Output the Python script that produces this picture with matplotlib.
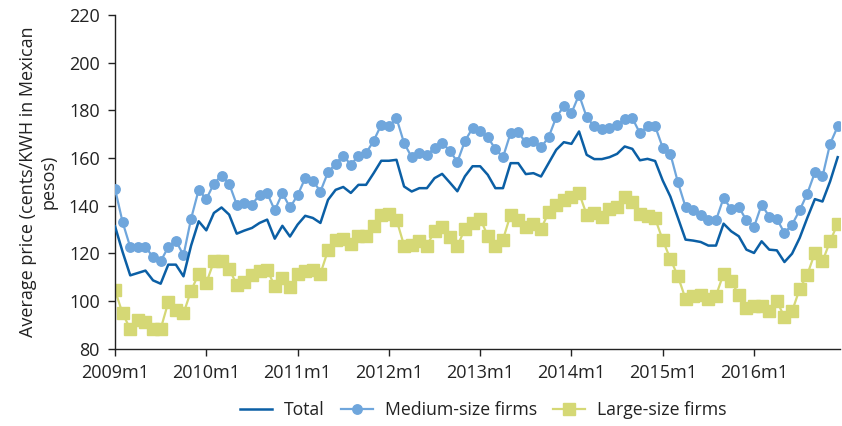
import numpy as np
import matplotlib
matplotlib.use("Agg")
import matplotlib.pyplot as plt

plt.rcParams['font.family'] = ['Open Sans', 'DejaVu Sans']

# monthly series, 2009m1 .. 2016m12
total = [131.3, 120.5, 110.7, 111.7, 112.7, 108.6, 107.2, 115.2, 115.2, 110.3, 123.2, 133.4,
         129.6, 136.9, 139.2, 136.2, 128.2, 129.5, 130.6, 132.7, 134.1, 126.1, 131.5, 127.0,
         132.0, 135.7, 134.8, 132.7, 142.4, 146.6, 147.8, 145.3, 148.7, 148.7, 153.6, 158.8,
         158.8, 159.2, 148.0, 145.9, 147.3, 147.3, 151.5, 153.3, 149.7, 146.0, 152.3, 156.5,
         156.5, 152.9, 147.3, 147.3, 157.8, 157.8, 153.2, 153.6, 152.2, 157.8, 163.4, 166.6,
         165.9, 171.1, 161.3, 159.5, 159.5, 160.3, 161.7, 164.8, 163.8, 159.0, 159.6, 158.7,
         150.5, 143.8, 134.8, 125.7, 125.3, 124.7, 123.2, 123.2, 132.4, 129.2, 127.1, 121.5,
         120.1, 125.0, 121.5, 121.2, 116.3, 119.8, 126.4, 134.8, 142.7, 141.7, 150.1, 160.3]

medium = [147.0, 133.0, 122.6, 122.6, 122.6, 118.4, 116.6, 122.6, 125.3, 119.1, 134.5, 146.6,
          142.7, 149.2, 152.6, 149.2, 140.4, 141.0, 140.4, 144.5, 145.2, 138.0, 145.2, 139.2,
          144.3, 151.5, 150.5, 145.9, 154.0, 157.5, 161.0, 157.1, 160.9, 162.0, 167.2, 173.9,
          173.2, 176.7, 166.2, 160.3, 162.0, 161.3, 164.1, 166.2, 163.1, 158.3, 167.1, 172.5,
          171.5, 168.7, 163.7, 160.3, 170.4, 170.7, 166.5, 167.3, 164.4, 168.7, 177.1, 181.6,
          178.8, 186.5, 177.1, 173.2, 172.2, 172.5, 173.9, 176.3, 176.7, 170.4, 173.3, 173.3,
          164.3, 161.7, 149.7, 139.4, 138.3, 136.2, 133.8, 133.8, 143.2, 138.5, 139.4, 133.8,
          131.0, 140.4, 135.4, 134.4, 128.5, 132.0, 138.0, 145.0, 153.9, 152.2, 165.9, 173.2]

large = [104.4, 94.7, 88.2, 91.9, 91.0, 88.2, 88.2, 99.4, 96.0, 94.7, 104.3, 111.3,
         107.5, 116.6, 116.6, 113.5, 106.8, 107.8, 111.0, 112.4, 113.1, 106.1, 109.5, 105.9,
         111.2, 112.4, 113.1, 111.4, 121.2, 125.4, 126.0, 124.0, 127.1, 127.1, 131.5, 136.2,
         136.6, 134.1, 123.2, 123.6, 125.0, 123.2, 129.2, 131.0, 126.8, 122.9, 130.3, 132.6,
         134.4, 127.4, 122.9, 125.7, 136.2, 134.1, 131.0, 132.4, 130.2, 137.1, 140.4, 142.4,
         143.6, 145.3, 136.2, 136.9, 135.2, 138.5, 139.4, 143.6, 141.7, 136.4, 135.7, 134.6,
         125.5, 117.6, 110.3, 100.8, 101.9, 102.6, 100.8, 102.2, 111.4, 108.2, 102.6, 97.0,
         98.0, 98.0, 95.6, 99.8, 93.3, 95.6, 105.0, 111.0, 120.1, 116.6, 125.0, 132.4]

tick_labels = ['2009m1', '2010m1', '2011m1', '2012m1', '2013m1', '2014m1', '2015m1', '2016m1']

x = np.arange(len(total))

fig = plt.figure(figsize=(8.42, 4.26), dpi=100)
ax = fig.add_axes([0.1366, 0.1819, 0.861, 0.783])

ax.plot(x, large, color='#d5d875', lw=1.6, marker='s', ms=8, mec='#d5d875',
        label='Large-size firms', zorder=2)
ax.plot(x, medium, color='#6fa6dc', lw=1.6, marker='o', ms=6.8, mec='#6fa6dc',
        label='Medium-size firms', zorder=3)
ax.plot(x, total, color='#0b5fa5', lw=1.8, label='Total', zorder=4)

ax.set_xlim(0, 95.3)
ax.set_ylim(80, 220)
ax.set_yticks(np.arange(80, 221, 20))
ax.set_xticks(np.arange(0, 96, 12))
ax.set_xticklabels(tick_labels)

for s in ['top', 'right']:
    ax.spines[s].set_visible(False)
for s in ['left', 'bottom']:
    ax.spines[s].set_color('#222222')
    ax.spines[s].set_linewidth(1.0)

ax.tick_params(axis='both', direction='out', length=5, width=1.0, color='#222222',
               labelsize=13, labelcolor='#222222', pad=6)

ax.set_ylabel('Average price (cents/KWH in Mexican\npesos)', fontsize=13,
              color='#222222', multialignment='center', labelpad=8)

handles, labels = ax.get_legend_handles_labels()
order = [2, 1, 0]
fig.legend([handles[i] for i in order], [labels[i] for i in order],
           loc='center', bbox_to_anchor=(0.574, 0.037), ncol=3, frameon=False,
           fontsize=12.7, handlelength=1.8, handletextpad=0.7, columnspacing=0.9,
           labelcolor='#222222')

fig.savefig('out.png', dpi=100)
